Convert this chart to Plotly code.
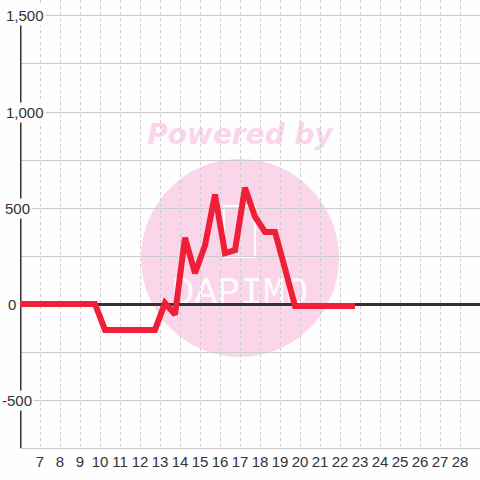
import plotly.graph_objects as go

# half-day sample times and the plotted series
day_positions = [5.75, 6.25, 6.75, 7.25, 7.75, 8.25, 8.75, 9.25, 9.75,
                 10.25, 10.75, 11.25, 11.75, 12.25, 12.75,
                 13.25, 13.75, 14.25, 14.75, 15.25, 15.75, 16.25, 16.75,
                 17.25, 17.75, 18.25, 18.75, 19.25, 19.75,
                 20.25, 20.75, 21.25, 21.75, 22.25, 22.75]
series_values = [0, 0, 0, 0, 0, 0, 0, 0, 0,
                 -135, -135, -135, -135, -135, -135,
                 5, -55, 345, 160, 305, 570, 265, 280,
                 605, 455, 375, 375, 185, -10,
                 -10, -10, -10, -10, -10, -10]

x_ticks = list(range(7, 29))
x_tick_labels = [str(d) for d in x_ticks]
y_label_values = [1500, 1000, 500, 0, -500]
y_label_texts = ["1,500", "1,000", "500", "0", "-500"]
# label centres in pixels from the left edge of the figure
y_label_px = [25, 25, 17.5, 11.5, 16.5]

BG = "#fdfefd"
RED = "#ee1f36"
PINK = "#fbd5ea"
TEXT = "#333333"
GRID = "#cccccc"
PLOT_LEFT, PLOT_WIDTH = 20, 460

fig = go.Figure()
fig.add_trace(
    go.Scatter(
        x=day_positions,
        y=series_values,
        mode="lines",
        line=dict(color=RED, width=6),
        hoverinfo="skip",
        showlegend=False,
    )
)

shapes = [
    # watermark circle
    dict(type="circle", layer="below", xref="x", yref="y",
         xsizemode="pixel", ysizemode="pixel", xanchor=17, yanchor=240,
         x0=-99, x1=99, y0=-99, y1=99,
         fillcolor=PINK, line=dict(width=0)),
    # watermark logo box
    dict(type="rect", layer="below", xref="x", yref="y",
         x0=16.2, x1=17.75, y0=245, y1=510,
         line=dict(color="white", width=2)),
    # watermark texts
    dict(type="rect", layer="below", xref="x", yref="y",
         x0=12, x1=22, y0=770, y1=1020, line=dict(width=0),
         label=dict(text="<b><i>Powered by</i></b>",
                    font=dict(family="DejaVu Sans", size=28, color=PINK))),
    dict(type="rect", layer="below", xref="x", yref="y",
         x0=13, x1=21, y0=0, y1=170, line=dict(width=0),
         label=dict(text="DAPIMO",
                    font=dict(family="Liberation Mono", size=38, color="rgba(255,255,255,0.9)"))),
    # left axis line
    dict(type="line", layer="between", xref="x", yref="y",
         x0=6, x1=6, y0=-750, y1=1500,
         line=dict(color=TEXT, width=3)),
]

annotations = [
    dict(x=(px - PLOT_LEFT) / PLOT_WIDTH, y=yv, xref="paper", yref="y", text=t,
         showarrow=False, xanchor="center", yanchor="middle",
         bgcolor=BG, borderpad=1,
         font=dict(family="Liberation Sans", size=15, color=TEXT))
    for px, yv, t in zip(y_label_px, y_label_values, y_label_texts)
]

fig.update_layout(
    width=480,
    height=480,
    paper_bgcolor=BG,
    plot_bgcolor=BG,
    margin=dict(l=PLOT_LEFT, r=0, t=0, b=32),
    font=dict(family="Liberation Sans", size=15, color=TEXT),
    shapes=shapes,
    annotations=annotations,
    showlegend=False,
    xaxis=dict(
        range=[6, 29],
        tickvals=x_ticks,
        ticktext=x_tick_labels,
        showgrid=True,
        gridcolor=GRID,
        gridwidth=1,
        griddash="3px,3px",
        zeroline=False,
        showline=True,
        linecolor=GRID,
        linewidth=1,
        ticks="",
        tickfont=dict(family="Liberation Sans", size=15, color=TEXT),
    ),
    yaxis=dict(
        range=[-750, 1583.3],
        dtick=250,
        tick0=0,
        showticklabels=False,
        showgrid=True,
        gridcolor=GRID,
        gridwidth=1,
        zeroline=True,
        zerolinecolor=TEXT,
        zerolinewidth=3,
        ticks="",
    ),
)

fig.write_html(
    "out.html",
    config={"displayModeBar": False},
    post_script="document.body.style.margin='0';",
)
